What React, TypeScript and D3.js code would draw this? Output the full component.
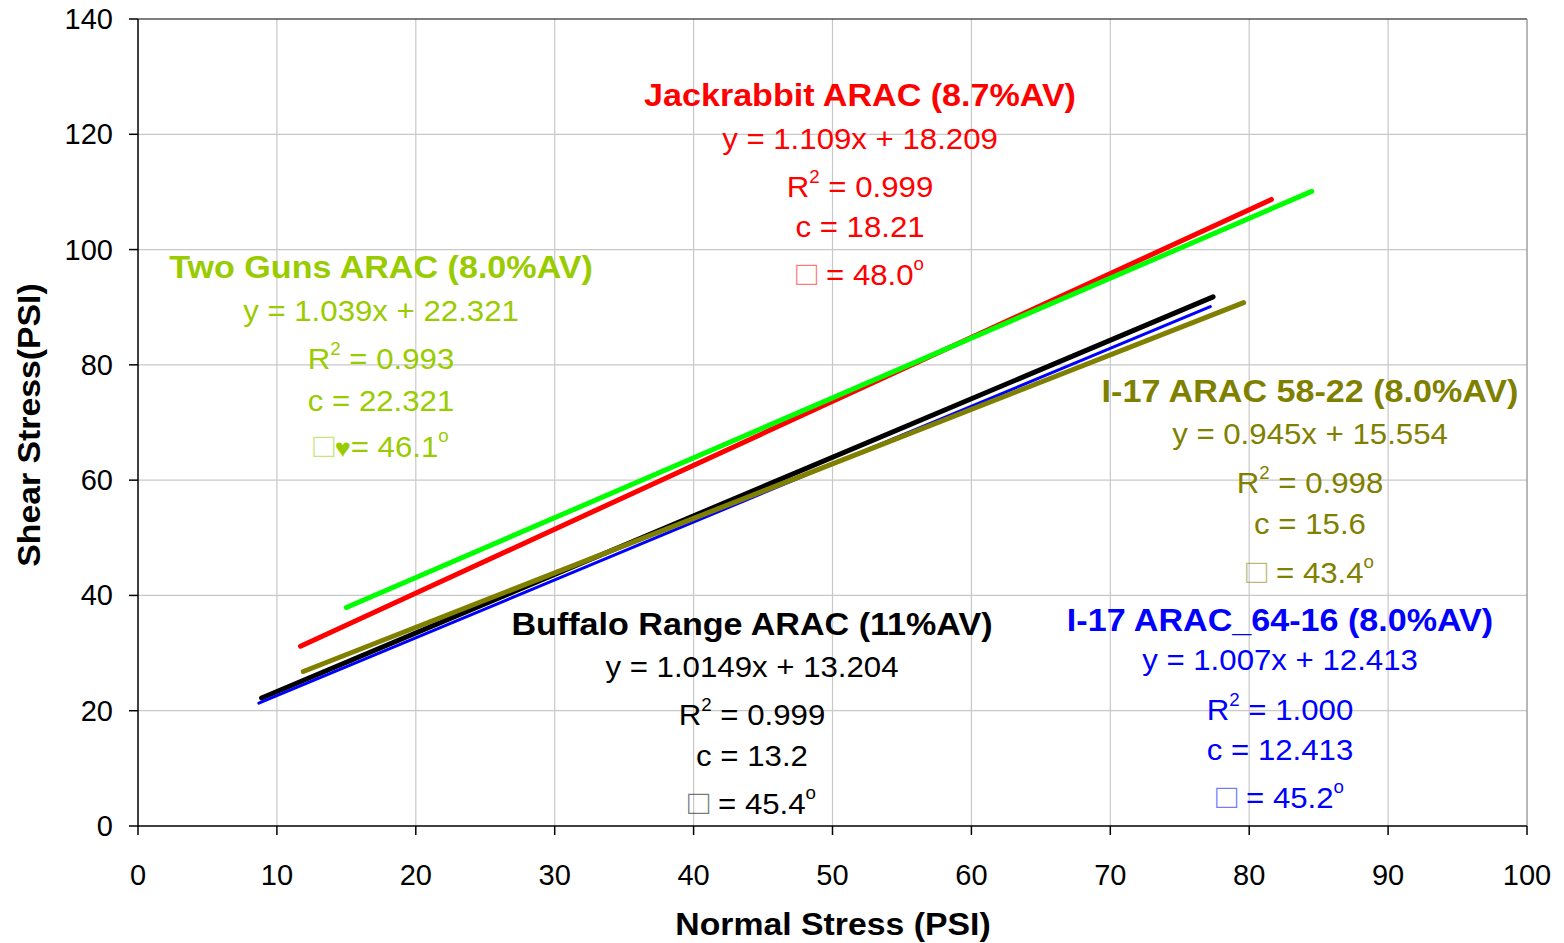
import React from 'react';
import * as d3 from 'd3';

// tick values
const xTicks = [0, 10, 20, 30, 40, 50, 60, 70, 80, 90, 100];
const yTicks = [0, 20, 40, 60, 80, 100, 120, 140];

// regression lines, two end points each
const seriesNames = ['Buffalo Range', 'I-17 64-16', 'I-17 58-22', 'Jackrabbit', 'Two Guns'];
const seriesX = [
  [8.9, 77.4],
  [8.7, 77.2],
  [11.9, 79.6],
  [11.7, 81.6],
  [15.0, 84.5],
];
const seriesY = [
  [22.2, 91.8],
  [21.3, 90.1],
  [26.8, 90.8],
  [31.2, 108.7],
  [37.9, 110.1],
];
const lineColors = ['#000000', '#0000ff', '#808000', '#ff0000', '#00ff00'];
const lineWidths = [5, 3, 5, 5, 5];

// text blocks
const titles = [
  'Buffalo Range ARAC (11%AV)',
  'I-17 ARAC_64-16 (8.0%AV)',
  'I-17 ARAC 58-22 (8.0%AV)',
  'Jackrabbit ARAC (8.7%AV)',
  'Two Guns ARAC (8.0%AV)',
];
const equations = [
  'y = 1.0149x + 13.204',
  'y = 1.007x + 12.413',
  'y = 0.945x + 15.554',
  'y = 1.109x + 18.209',
  'y = 1.039x + 22.321',
];
const rSquared = ['0.999', '1.000', '0.998', '0.999', '0.993'];
const cohesion = ['13.2', '12.413', '15.6', '18.21', '22.321'];
const phiExtra = ['', '', '', '', '\u2665'];
const phiValues = ['45.4', '45.2', '43.4', '48.0', '46.1'];
const textColors = ['#000000', '#0000ff', '#808000', '#ff0000', '#99cc00'];

// label block placement: center x and row baselines (pixels)
const blockPos = [
  { cx: 752, y: 635, gaps: [42, 48, 41, 48] },
  { cx: 1280, y: 631, gaps: [39, 50, 40, 48] },
  { cx: 1310, y: 402, gaps: [42, 49, 41, 49] },
  { cx: 860, y: 106, gaps: [43, 48, 40, 48] },
  { cx: 381, y: 278, gaps: [43, 48, 42, 46] },
];

const W = 1564;
const H = 943;
const FONT = '"Liberation Sans", Arial, sans-serif';
const BOLD_SX = 1.1;
const REG_SX = 1.04;

export default function App() {
  const x = d3.scaleLinear().domain([0, 100]).range([138, 1527]);
  const y = d3.scaleLinear().domain([0, 140]).range([826, 19]);

  const line = d3
    .line<[number, number]>()
    .x((d) => x(d[0]))
    .y((d) => y(d[1]));

  const at = (cx: number, cy: number, sx: number) => `translate(${cx},${cy}) scale(${sx},1)`;

  return (
    <svg
      width={W}
      height={H}
      style={{ position: 'absolute', left: 0, top: 0, background: '#fff' }}
      fontFamily={FONT}
    >
      {/* grid */}
      {xTicks.slice(1, -1).map((t) => (
        <line key={'gx' + t} x1={x(t)} x2={x(t)} y1={y(0)} y2={y(140)} stroke="#c8c8c8" strokeWidth={1.2} />
      ))}
      {yTicks.slice(1, -1).map((t) => (
        <line key={'gy' + t} x1={x(0)} x2={x(100)} y1={y(t)} y2={y(t)} stroke="#c8c8c8" strokeWidth={1.2} />
      ))}
      <line x1={x(0)} x2={x(100)} y1={y(140)} y2={y(140)} stroke="#000" strokeWidth={1.2} />
      <line x1={x(100)} x2={x(100)} y1={y(0)} y2={y(140)} stroke="#888" strokeWidth={1.2} />

      {/* axes */}
      <line x1={x(0)} x2={x(0)} y1={y(0)} y2={y(140)} stroke="#000" strokeWidth={1.5} />
      <line x1={x(0)} x2={x(100)} y1={y(0)} y2={y(0)} stroke="#000" strokeWidth={1.5} />
      {yTicks.map((t) => (
        <g key={'ty' + t}>
          <line x1={x(0) - 9} x2={x(0)} y1={y(t)} y2={y(t)} stroke="#000" strokeWidth={1.5} />
          <text x={113} y={y(t) + 10} textAnchor="end" fontSize={29} fill="#000">
            {t}
          </text>
        </g>
      ))}
      {xTicks.map((t) => (
        <g key={'tx' + t}>
          <line x1={x(t)} x2={x(t)} y1={y(0)} y2={y(0) + 9} stroke="#000" strokeWidth={1.5} />
          <text x={x(t)} y={885} textAnchor="middle" fontSize={29} fill="#000">
            {t}
          </text>
        </g>
      ))}

      <text transform={at(833, 935, 1.09)} textAnchor="middle" fontSize={31} fontWeight="bold" fill="#000">
        Normal Stress (PSI)
      </text>
      <text
        transform="translate(40,425) rotate(-90) scale(1.09,1)"
        textAnchor="middle"
        fontSize={31}
        fontWeight="bold"
        fill="#000"
      >
        Shear Stress(PSI)
      </text>

      {/* regression lines */}
      {seriesNames.map((name, i) => {
        const pts = seriesX[i].map((v, j) => [v, seriesY[i][j]] as [number, number]);
        return (
          <path
            key={name}
            d={line(pts) || ''}
            fill="none"
            stroke={lineColors[i]}
            strokeWidth={lineWidths[i]}
            strokeLinecap="round"
          />
        );
      })}

      {/* annotation blocks */}
      {seriesNames.map((name, i) => {
        const p = blockPos[i];
        const c = textColors[i];
        let yy = p.y;
        const ys = [yy];
        p.gaps.forEach((g) => {
          yy += g;
          ys.push(yy);
        });
        return (
          <g key={'lbl' + name} fill={c} textAnchor="middle">
            <text transform={at(p.cx, ys[0], BOLD_SX)} fontSize={31} fontWeight="bold">
              {titles[i]}
            </text>
            <text transform={at(p.cx, ys[1], REG_SX)} fontSize={30}>
              {equations[i]}
            </text>
            <text transform={at(p.cx, ys[2], REG_SX)} fontSize={30}>
              R<tspan fontSize={18} dy={-14}>2</tspan>
              <tspan dy={14}> = {rSquared[i]}</tspan>
            </text>
            <text transform={at(p.cx, ys[3], REG_SX)} fontSize={30}>
              c = {cohesion[i]}
            </text>
            <text transform={at(p.cx, ys[4], REG_SX)} fontSize={30}>
              <tspan fillOpacity={0.55} fontSize={34}>{'\u25A1'}</tspan>
              {phiExtra[i] ? <tspan fontSize={26}>{phiExtra[i]}</tspan> : null}
              <tspan>{phiExtra[i] ? '= ' : ' = '}{phiValues[i]}</tspan>
              <tspan fontSize={18} dy={-15}>o</tspan>
            </text>
          </g>
        );
      })}
    </svg>
  );
}
